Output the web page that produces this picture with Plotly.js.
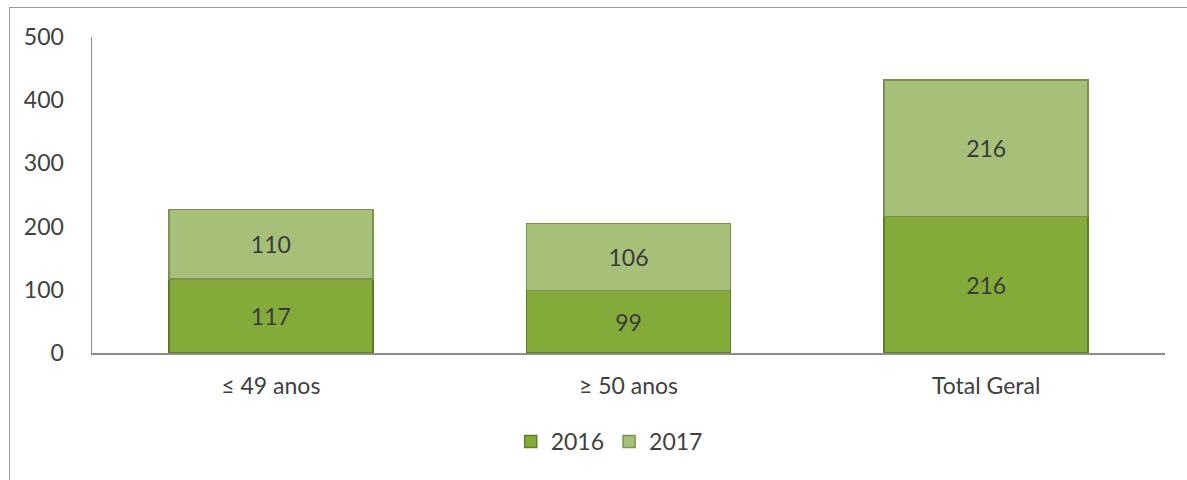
<!DOCTYPE html>
<html>
<head>
<meta charset="utf-8">
<script src="https://cdn.plot.ly/plotly-3.0.1.min.js"></script>
<style>
html,body{margin:0;padding:0;background:#fff;}
#wrap{position:relative;width:1187px;height:480px;overflow:hidden;}
#chart{width:1187px;height:480px;}
#frame{position:absolute;left:9px;top:7px;width:1190px;height:480px;border:1px solid #9a9a9a;pointer-events:none;}
</style>
</head>
<body>
<div id="wrap">
<div id="chart"></div>
<div id="frame"></div>
</div>
<script>
const categories = ["≤ 49 anos", "≥ 50 anos", "Total Geral"];
const values2016 = [117, 99, 216];
const values2017 = [110, 106, 216];
const seriesNames = ["2016", "2017"];
const yTicks = [0, 100, 200, 300, 400, 500];

const font = "Lato, 'Open Sans', sans-serif";
const traces = [
  {
    type: "bar", name: seriesNames[0], x: categories, y: values2016,
    text: values2016.map(String), textposition: "inside", insidetextanchor: "middle",
    textfont: {family: font, size: 23, color: "#3a3a3a"},
    marker: {color: "#84ab3a", line: {color: "#5f7d25", width: 1.5}},
    width: 0.57
  },
  {
    type: "bar", name: seriesNames[1], x: categories, y: values2017,
    text: values2017.map(String), textposition: "inside", insidetextanchor: "middle",
    textfont: {family: font, size: 23, color: "#3a3a3a"},
    marker: {color: "#a6bf79", line: {color: "#7b9150", width: 1.5}},
    width: 0.57
  }
];

const layout = {
  width: 1187, height: 480,
  barmode: "stack",
  margin: {l: 92, r: 22, t: 37, b: 127},
  paper_bgcolor: "#ffffff", plot_bgcolor: "#ffffff",
  font: {family: font, size: 23, color: "#404040"},
  showlegend: true,
  legend: {orientation: "h", x: 0.482, xanchor: "center", y: -0.28, yanchor: "middle",
           font: {family: font, size: 23, color: "#404040"}, traceorder: "normal", itemwidth: 30},
  xaxis: {
    showline: true, linecolor: "#8c8c8c", linewidth: 1.5,
    ticks: "", showgrid: false, zeroline: false,
    ticklabelstandoff: 12,
    tickfont: {family: font, size: 23, color: "#404040"}
  },
  yaxis: {
    range: [0, 500], tickvals: yTicks, ticktext: yTicks.map(String),
    showline: true, linecolor: "#8c8c8c", linewidth: 1.5,
    ticks: "", showgrid: false, zeroline: false,
    ticklabelstandoff: 22,
    tickfont: {family: font, size: 23, color: "#404040"}
  }
};

Plotly.newPlot("chart", traces, layout, {displayModeBar: false, staticPlot: true});
</script>
</body>
</html>
